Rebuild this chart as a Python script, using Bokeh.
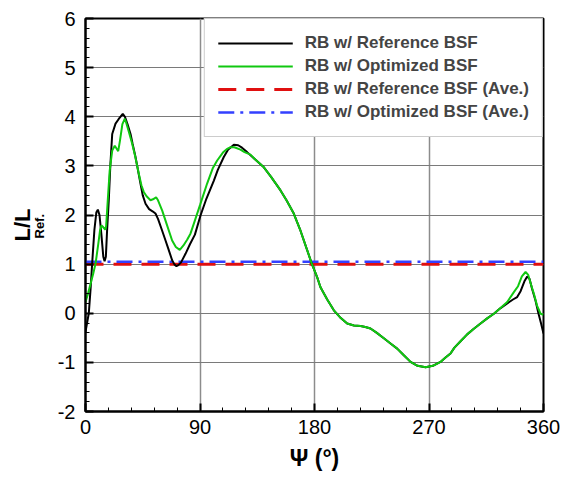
from bokeh.plotting import figure
from bokeh.models import (FixedTicker, Legend, LegendItem, Title, Range1d)
from bokeh.embed import file_html
from bokeh.resources import INLINE

# ---- data ----
psi_ref = [0, 2.6, 4, 5.2, 7, 8.5, 9.7, 11, 12.5, 14, 15, 16, 17, 18.3, 19.5, 21,
           23.6, 26, 29.3, 31, 33, 35.4, 37, 39.3, 41, 43.2, 45, 47.2, 50, 53, 55,
           57, 60, 62.9, 65, 68.1, 70, 71.5, 73, 75, 78.6, 82, 86, 90.4, 95, 100.9,
           104, 108.7, 112, 116.6, 120, 123, 127, 133, 140.2, 146, 153.3, 158, 163.7,
           169, 174.3, 178, 182, 184.7, 190, 195.2, 200, 205.7, 211, 216.2, 220, 224,
           229, 234.5, 240, 245, 250, 255.5, 261, 267.3, 273, 279, 283, 286.9, 290,
           294.8, 300, 305, 310.5, 316, 321, 326, 331.5, 336, 339.3, 342, 345, 347.2,
           349, 351, 353.7, 356, 358, 360]
L_ref = [-0.38, 0.0, 0.5, 1.0, 1.7, 2.05, 2.11, 2.0, 1.6, 1.15, 1.06, 1.15, 1.7, 2.3, 3.0, 3.65,
         3.86, 3.95, 4.06, 4.0, 3.85, 3.65, 3.45, 3.18, 2.95, 2.64, 2.4, 2.23, 2.12, 2.07, 2.03,
         1.92, 1.7, 1.48, 1.32, 1.08, 0.99, 0.96, 0.98, 1.03, 1.21, 1.4, 1.6, 1.99, 2.33, 2.70,
         2.92, 3.18, 3.33, 3.43, 3.42, 3.37, 3.28, 3.14, 2.97, 2.77, 2.5, 2.3, 2.03,
         1.68, 1.28, 1.0, 0.74, 0.53, 0.28, 0.06, -0.08, -0.21, -0.25, -0.26, -0.28, -0.31,
         -0.4, -0.51, -0.62, -0.72, -0.85, -0.99, -1.07, -1.10, -1.07, -0.99, -0.9, -0.82, -0.7,
         -0.57, -0.43, -0.32, -0.21, -0.1, -0.01, 0.1, 0.2, 0.28, 0.33, 0.45, 0.65, 0.75,
         0.7, 0.5, 0.26, 0.0, -0.2, -0.41]

psi_opt = [0, 2, 4, 6, 7.9, 10, 11.5, 12.6, 14, 15.5, 16.2, 17.5, 19, 21, 23, 24.5, 25.7,
           27, 29, 30.9, 32, 34, 36.7, 39, 41.9, 44, 45.8, 48, 51.1, 53, 55.5, 57, 60.3,
           64, 68.1, 71, 74.1, 77, 80, 82.5, 85.1, 90, 95.6, 100, 103.5, 108, 111, 114,
           117, 121.8, 125, 129.7, 133, 140.2, 146, 153.3, 158, 163.7, 169, 174.3, 178,
           182, 184.7, 190, 195.2, 200, 205.7, 211, 216.2, 220, 224, 229, 234.5, 240, 245,
           250, 255.5, 261, 267.3, 273, 279, 283, 286.9, 290, 294.8, 300, 305, 310.5, 316,
           321, 326, 331.5, 336.7, 340, 343, 345.9, 348, 350, 352.4, 355, 357.7, 360]
L_opt = [0.23, 0.4, 0.6, 0.8, 1.01, 1.4, 1.7, 1.79, 1.75, 1.7, 1.77, 2.3, 2.9, 3.31, 3.41, 3.35, 3.3,
         3.5, 3.85, 3.96, 3.88, 3.7, 3.45, 3.2, 2.84, 2.6, 2.47, 2.38, 2.30, 2.32, 2.36, 2.3, 2.09,
         1.8, 1.48, 1.35, 1.29, 1.38, 1.5, 1.62, 1.82, 2.2, 2.64, 2.95, 3.11, 3.27, 3.34, 3.38,
         3.38, 3.33, 3.28, 3.23, 3.14, 2.97, 2.77, 2.5, 2.3, 2.03, 1.68, 1.28, 1.0,
         0.74, 0.53, 0.28, 0.06, -0.08, -0.21, -0.25, -0.26, -0.28, -0.31, -0.4, -0.51, -0.62, -0.72,
         -0.85, -0.99, -1.07, -1.10, -1.07, -0.99, -0.9, -0.82, -0.7, -0.57, -0.43, -0.32, -0.21, -0.1,
         -0.01, 0.1, 0.23, 0.43, 0.55, 0.75, 0.84, 0.78, 0.6, 0.40, 0.15, -0.01, -0.03]

psi_avg = [0, 360]
L_ref_avg = [1.0, 1.0]
L_opt_avg = [1.05, 1.05]

x_ticks = [0, 90, 180, 270, 360]
y_ticks = [-2, -1, 0, 1, 2, 3, 4, 5, 6]

labels = ["RB w/ Reference BSF", "RB w/ Optimized BSF",
          "RB w/ Reference BSF (Ave.)", "RB w/ Optimized BSF (Ave.)"]

p = figure(width=563, height=477, output_backend="svg", toolbar_location=None,
           x_range=Range1d(0, 360), y_range=Range1d(-2, 6),
           min_border_left=85, min_border_top=18, min_border_right=20, min_border_bottom=66)
p.background_fill_color = "white"
p.outline_line_color = "black"
p.outline_line_width = 2

for ax in (p.xaxis[0], p.yaxis[0]):
    ax.axis_line_width = 2
    ax.axis_line_color = "black"
    ax.major_tick_in = 8
    ax.major_tick_out = 0
    ax.minor_tick_in = 4
    ax.minor_tick_out = 0
    ax.major_tick_line_width = 2
    ax.minor_tick_line_width = 1
    ax.major_label_text_font = "Liberation Sans"
    ax.major_label_text_font_size = "20px"
    ax.major_label_text_color = "black"

p.xaxis[0].ticker = FixedTicker(ticks=x_ticks, minor_ticks=[i * 18 for i in range(21)])
p.yaxis[0].ticker = FixedTicker(ticks=y_ticks, minor_ticks=[-2 + i * 0.2 for i in range(41)])
p.yaxis[0].major_label_overrides = {t: str(t) for t in y_ticks}
p.xaxis[0].major_label_standoff = 8
p.yaxis[0].major_label_standoff = 10

p.xaxis[0].axis_label = "Ψ (°)"
p.xaxis[0].axis_label_text_font = "Liberation Sans"
p.xaxis[0].axis_label_text_font_style = "bold"
p.xaxis[0].axis_label_text_font_size = "23px"
p.xaxis[0].axis_label_text_color = "black"
p.xaxis[0].axis_label_standoff = 8

p.xgrid.grid_line_color = "#8c8c8c"
p.ygrid.grid_line_color = "#7a7a7a"
p.xgrid.grid_line_width = 1.5
p.ygrid.grid_line_width = 1

r_ravg = p.line(psi_avg, L_ref_avg, line_color="#e01010", line_width=3, line_dash="18 10")
r_oavg = p.line(psi_avg, L_opt_avg, line_color="#3340ff", line_width=2.5, line_dash="16 6 3 6")
r_ref = p.line(psi_ref, L_ref, line_color="black", line_width=2)
r_opt = p.line(psi_opt, L_opt, line_color="#10c810", line_width=2)

legend = Legend(items=[LegendItem(label=labels[0], renderers=[r_ref]),
                       LegendItem(label=labels[1], renderers=[r_opt]),
                       LegendItem(label=labels[2], renderers=[r_ravg]),
                       LegendItem(label=labels[3], renderers=[r_oavg])],
                location="top_right")
legend.margin = 0
legend.padding = 13
legend.spacing = 1
legend.glyph_width = 75
legend.glyph_height = 22
legend.label_height = 22
legend.label_standoff = 12
legend.label_text_font = "Liberation Sans"
legend.label_text_font_style = "bold"
legend.label_text_font_size = "17px"
legend.border_line_color = "#9a9a9a"
legend.border_line_width = 1.5
legend.background_fill_alpha = 1
p.add_layout(legend)

# y axis title: "L/L" with subscript "Ref." (inner title first)
t_sub = Title(text="Ref.", align="left", offset=173, standoff=16,
              text_font="Liberation Sans", text_font_style="bold",
              text_font_size="13px", text_color="black")
t_main = Title(text="L/L", align="left", offset=170, standoff=-26,
               text_font="Liberation Sans", text_font_style="bold",
               text_font_size="22px", text_color="black")
p.add_layout(t_sub, "left")
p.add_layout(t_main, "left")

open("out.html", "w").write(file_html(p, INLINE))
